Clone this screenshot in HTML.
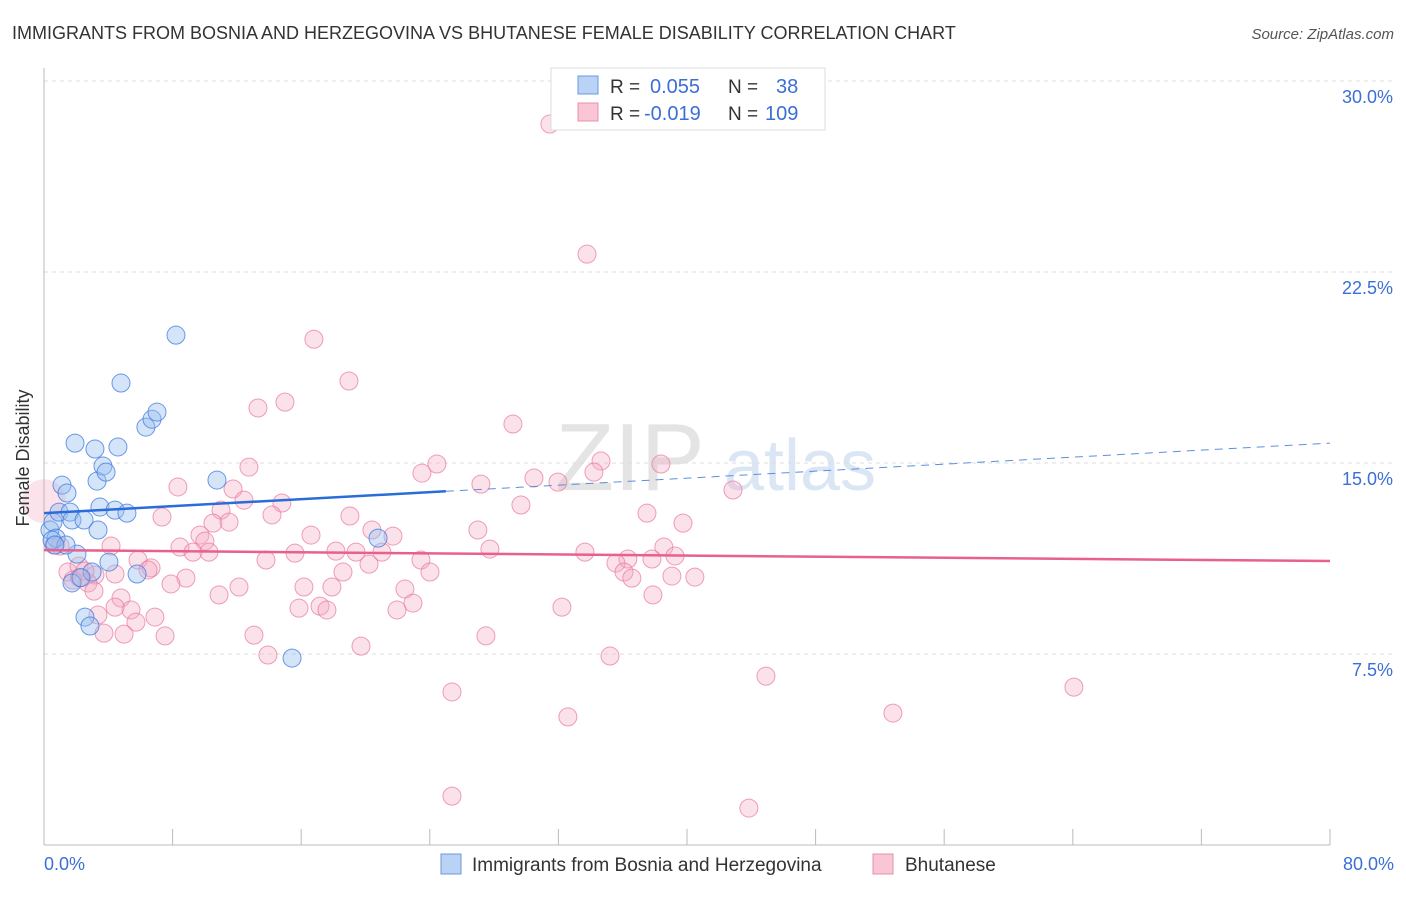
<!DOCTYPE html>
<html><head><meta charset="utf-8"><style>
body{margin:0;background:#fff;font-family:"Liberation Sans",sans-serif}
svg text{font-family:"Liberation Sans",sans-serif}
</style></head><body>
<svg width="1406" height="892">
<text x="12" y="39" font-size="18" fill="#333">IMMIGRANTS FROM BOSNIA AND HERZEGOVINA VS BHUTANESE FEMALE DISABILITY CORRELATION CHART</text>
<text x="1394" y="39" font-size="15" fill="#555" font-style="italic" text-anchor="end">Source: ZipAtlas.com</text>
<text x="630" y="490" font-size="96" fill="#e4e4e4" font-family="Liberation Serif" text-anchor="middle">ZIP</text>
<text x="800" y="490" font-size="72" fill="#dbe6f5" text-anchor="middle">atlas</text>
<g id="grid"></g><g id="axes"></g><g id="pts"></g><g id="lines"></g>
<text x="29" y="458" font-size="18" fill="#333" text-anchor="middle" transform="rotate(-90 29 458)">Female Disability</text>
<text x="44" y="870" font-size="18" fill="#3b6fd6">0.0%</text>
<text x="1394" y="870" font-size="18" fill="#3b6fd6" text-anchor="end">80.0%</text>
<g>
<rect x="551" y="68" width="274" height="62" fill="#fff" stroke="#ddd"/>
<rect x="578" y="76" width="20" height="18" fill="#b9d2f5" stroke="#6a9ae0"/>
<rect x="578" y="103" width="20" height="18" fill="#f9c6d6" stroke="#e890ac"/>
<text x="610" y="93" font-size="19" fill="#333">R = </text><text x="650" y="93" font-size="20" fill="#3b6fd6">0.055</text>
<text x="728" y="93" font-size="19" fill="#333">N = </text><text x="776" y="93" font-size="20" fill="#3b6fd6">38</text>
<text x="610" y="120" font-size="19" fill="#333">R = </text><text x="644" y="120" font-size="20" fill="#3b6fd6">-0.019</text>
<text x="728" y="120" font-size="19" fill="#333">N = </text><text x="765" y="120" font-size="20" fill="#3b6fd6">109</text>
</g>
<g>
<rect x="441" y="854" width="20" height="20" fill="#b9d2f5" stroke="#6a9ae0"/>
<text x="472" y="871" font-size="19" fill="#333">Immigrants from Bosnia and Herzegovina</text>
<rect x="873" y="854" width="20" height="20" fill="#f9c6d6" stroke="#e890ac"/>
<text x="905" y="871" font-size="19" fill="#333">Bhutanese</text>
</g>
</svg>
<script>
const yTicks=[7.5,15,22.5,30];
const yTickLabels=["7.5%","15.0%","22.5%","30.0%"];
const xTicks=[0,8,16,24,32,40,48,56,64,72,80];
const blueX=[0.37,0.56,0.75,0.93,1.12,1.43,1.62,1.74,1.93,2.05,2.49,2.55,2.86,2.99,3.17,3.30,3.36,3.48,3.67,3.86,4.04,4.42,4.60,4.79,5.16,5.79,6.34,6.72,7.03,8.21,10.76,15.43,20.78,1.74,0.50,1.37,0.68,2.3];
const blueY=[12.37,12.68,12.05,13.07,14.13,13.82,13.07,12.76,15.78,11.42,12.76,8.95,8.60,10.72,15.55,14.29,12.37,13.27,14.88,14.64,11.11,13.15,15.63,18.14,13.03,10.64,16.41,16.72,17.00,20.02,14.33,7.34,12.05,10.29,11.97,11.78,11.78,10.5];
const pinkX=[31.47,33.78,16.79,18.97,14.99,13.31,29.17,24.44,34.65,38.38,12.75,23.51,34.21,30.48,31.97,27.18,8.33,42.86,11.76,12.44,14.80,29.67,11.01,14.18,37.51,7.34,19.03,10.51,11.51,39.75,26.99,20.40,9.70,21.71,16.61,10.01,27.74,8.46,38.56,4.17,18.16,19.41,21.02,15.61,9.27,10.26,33.65,39.25,36.32,13.81,23.45,20.22,35.58,37.82,5.85,6.66,18.60,24.01,36.08,36.57,6.47,1.49,2.18,3.17,4.42,2.74,39.06,40.49,8.83,7.90,16.17,17.91,12.13,22.45,3.11,10.89,37.88,4.79,22.95,5.41,4.42,15.86,17.17,17.60,32.22,21.96,3.36,6.90,5.72,3.73,4.98,7.53,13.06,27.49,19.72,13.93,35.21,44.91,25.38,64.07,52.81,32.59,25.38,43.85,2.55,1.00,0.62,1.8,2.2];
const pinkY=[28.31,23.20,19.86,18.22,17.39,17.16,16.53,14.96,15.08,14.96,14.84,14.60,14.64,14.41,14.25,14.17,14.06,13.94,13.98,13.54,13.43,13.35,13.15,12.96,13.03,12.88,12.92,12.64,12.68,12.64,12.37,12.37,12.17,12.13,12.17,11.93,11.62,11.70,11.70,11.74,11.54,11.50,11.50,11.46,11.50,11.50,11.50,11.35,11.23,11.19,11.19,11.03,11.07,11.23,11.19,10.88,10.72,10.72,10.72,10.48,10.80,10.72,10.95,10.60,10.64,10.29,10.56,10.52,10.48,10.25,10.13,10.13,10.13,10.05,9.97,9.82,9.82,9.70,9.50,9.23,9.34,9.30,9.38,9.23,9.34,9.23,9.03,8.95,8.75,8.32,8.28,8.21,8.24,8.21,7.81,7.46,7.42,6.63,6.01,6.20,5.18,5.03,1.92,1.45,10.76,11.74,11.78,10.4,10.5];
const blueTrend=[13.03,15.78];   // y at x=0, y at x=80
const blueSolidEnd=25;           // % x where solid ends
const pinkTrend=[11.58,11.15];
const X=v=>44+v/80*1286, Y=v=>845-v/7.5*191;
const NS='http://www.w3.org/2000/svg';
function mk(t,a,p){const e=document.createElementNS(NS,t);for(const k in a)e.setAttribute(k,a[k]);document.getElementById(p).appendChild(e);return e;}
yTicks.forEach((t,i)=>{
 const l=mk('line',{x1:44,x2:1394,y1:Y(t),y2:Y(t),stroke:'#ddd','stroke-dasharray':'4,4'},'grid');
 
 
 const tx=mk('text',{x:1393,y:Y(t)+22,'font-size':18,fill:'#3b6fd6','text-anchor':'end'},'grid');
 tx.textContent=yTickLabels[i];
 
 
});
let a=mk('line',{x1:44,x2:44,y1:68,y2:845,stroke:'#bbb'},'axes');


a=mk('line',{x1:44,x2:1330,y1:845,y2:845,stroke:'#bbb'},'axes');


xTicks.forEach(t=>{
 const l=mk('line',{x1:X(t),x2:X(t),y1:829,y2:845,stroke:'#bbb'},'axes');
 
 
});
const big=mk('circle',{cx:X(0),cy:Y(13.5),r:22,fill:'rgba(244,160,188,0.3)',stroke:'none'},'pts');


pinkX.forEach((x,i)=>{
 const c=mk('circle',{cx:X(x),cy:Y(pinkY[i]),r:9,fill:'rgba(244,170,195,0.35)',stroke:'rgba(232,120,155,0.7)','stroke-width':1},'pts');
 
 
});
blueX.forEach((x,i)=>{
 const c=mk('circle',{cx:X(x),cy:Y(blueY[i]),r:9,fill:'rgba(150,190,240,0.4)',stroke:'rgba(60,120,220,0.75)','stroke-width':1},'pts');
 
 
});
const by=x=>blueTrend[0]+(blueTrend[1]-blueTrend[0])*x/80;
let t=mk('line',{x1:X(0),y1:Y(by(0)),x2:X(blueSolidEnd),y2:Y(by(blueSolidEnd)),stroke:'#2a6dd8','stroke-width':2.5},'lines');


t=mk('line',{x1:X(blueSolidEnd),y1:Y(by(blueSolidEnd)),x2:X(80),y2:Y(by(80)),stroke:'#5a8fe0','stroke-width':1,'stroke-dasharray':'8,6'},'lines');


t=mk('line',{x1:X(0),y1:Y(pinkTrend[0]),x2:X(80),y2:Y(pinkTrend[1]),stroke:'#e8608e','stroke-width':2.5},'lines');


</script>
</body></html>
